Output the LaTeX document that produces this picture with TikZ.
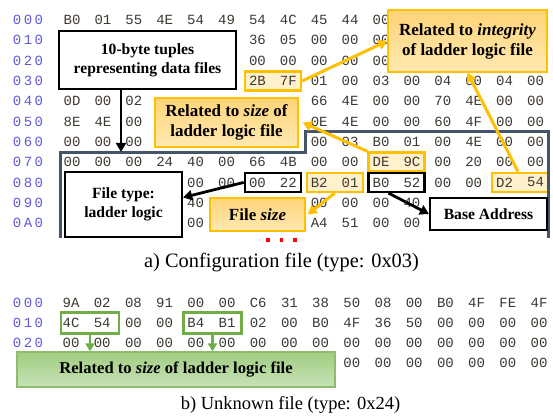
\documentclass[tikz,border=0pt]{standalone}
\usepackage{fontspec}
\setmainfont{Liberation Serif}
\newfontfamily\hexfont{Liberation Mono}
\usetikzlibrary{arrows.meta}
\definecolor{offc}{RGB}{95,90,220}
\definecolor{hexc}{RGB}{62,56,50}
\definecolor{org}{RGB}{255,192,0}
\definecolor{orgtop}{RGB}{255,212,120}
\definecolor{orgbot}{RGB}{255,233,178}
\definecolor{hlfill}{RGB}{255,241,204}
\definecolor{framec}{RGB}{68,84,106}
\definecolor{grn}{RGB}{112,173,71}
\definecolor{grntop}{RGB}{160,205,130}
\definecolor{grnbot}{RGB}{200,226,182}
\newcommand\ofs[3]{#1\kern2.4pt#2\kern2.4pt#3}
\newcommand\hexrowA[4]{\foreach \v [count=\i from #3] in {#4} {\node[hex] (#1-\i) at ({72+30.9*\i},#2) {\v};}}
\newcommand\hexrowB[4]{\foreach \v [count=\i from #3] in {#4} {\node[hex] (#1-\i) at ({71+31.2*\i},#2) {\v};}}
\tikzset{
  hex/.style={font=\hexfont\fontsize{14}{14}\selectfont, text=hexc, inner sep=0pt},
  off/.style={font=\hexfont\fontsize{14}{14}\selectfont, text=offc, inner sep=0pt},
  lbl/.style={font=\bfseries\fontsize{15.6}{19}\selectfont, align=center, inner sep=0pt},
  olbl/.style={font=\bfseries\fontsize{17}{20}\selectfont, align=center, inner sep=0pt},
  whitebox/.style={draw=black, line width=2.2pt, fill=white},
  orgbox/.style={draw=org, line width=1.4pt, top color=orgtop, bottom color=orgbot},
  grnbox/.style={draw=grn!80, line width=1.2pt, top color=grntop, bottom color=grnbot},
  hlo/.style={draw=org, line width=2.4pt, fill=hlfill, minimum height=19pt, minimum width=56pt, inner sep=0pt},
  hlk/.style={draw=black, line width=2.4pt, minimum height=19pt, minimum width=56pt, inner sep=0pt},
  hlg/.style={draw=grn, line width=2.6pt, minimum height=21pt, minimum width=58pt, inner sep=0pt},
  barrow/.style={draw=black, line width=2.8pt, -{Triangle[length=9pt,width=10pt]}},
  oarrow/.style={draw=org, line width=3pt, -{Triangle[length=9pt,width=10pt]}},
  garrow/.style={draw=grn, line width=2.6pt, -{Triangle[length=8pt,width=9pt]}},
  captxt/.style={inner sep=0pt},
}
\begin{document}
\begin{tikzpicture}[x=1pt,y=-1pt]
\fill[white] (0,0) rectangle (553,419);
\useasboundingbox (0,0) rectangle (553,419);

% highlight boxes (behind text)
\node[hlo] (k2b7f) at (272.9,81) {};
\node[hlo] (kde9c) at (396.5,162) {};
\node[hlo] (kb201) at (334.7,182.4) {};
\node[hlo] (kd254) at (520,182.4) {};
\node[hlk] (k0022) at (272.9,182.4) {};
\node[hlk] (kb052) at (396.5,182.4) {};

% offsets (part a)
\foreach \o [count=\r from 0] in {{\ofs000},{\ofs010},{\ofs020},{\ofs030},{\ofs040},{\ofs050},{\ofs060},{\ofs070},{\ofs080},{\ofs090},{\ofs0A0}}
  {\node[off] (oa-\r) at (28,{20+20.3*\r}) {\o};}

% hex rows (part a)
\hexrowA{a0}{20}{0}{B0,01,55,4E,54,49,54,4C,45,44,00}
\hexrowA{a1}{40.3}{6}{36,05,00,00,00}
\hexrowA{a2}{60.6}{6}{00,00,00,00,00}
\hexrowA{a3}{80.9}{6}{2B,7F,01,00,03,00,04,00,04,00}
\hexrowA{a4}{101.2}{0}{0D,00,02}
\hexrowA{a4r}{101.2}{8}{66,4E,00,00,70,4E,00,00}
\hexrowA{a5}{121.5}{0}{8E,4E,00}
\hexrowA{a5r}{121.5}{8}{0E,4E,00,00,60,4F,00,00}
\hexrowA{a6}{141.8}{0}{00,00,00}
\hexrowA{a6r}{141.8}{8}{00,03,B0,01,00,4E,00,00}
\hexrowA{a7}{162.1}{0}{00,00,00,24,40,00,66,4B,00,00,DE,9C,00,20,00,00}
\hexrowA{a8}{182.4}{4}{00,00,00,22,B2,01,B0,52,00,00,D2,54}
\hexrowA{a9}{202.7}{4}{40}
\hexrowA{a9r}{202.7}{8}{00,00,00,40}
\hexrowA{a10}{223}{4}{00}
\hexrowA{a10r}{223}{8}{A4,51,00,00}

% frame
\draw[framec, line width=3pt] (60,238) -- (60,153) -- (305,153) -- (305,132) -- (548,132) -- (548,238);

% annotation boxes
\node[whitebox, lbl, minimum width=177pt, minimum height=58pt] (tuples) at (147.5,60) {10-byte tuples\\representing data files};
\node[orgbox, olbl, minimum width=159pt, minimum height=62pt] (integ) at (467.5,41) {Related to \textit{integrity}\\of ladder logic file};
\node[orgbox, olbl, minimum width=143pt, minimum height=49pt] (sizeb) at (226.5,122.5) {Related to \textit{size} of\\ladder logic file};
\node[whitebox, lbl, minimum width=117pt, minimum height=65pt] (ftype) at (123.5,204.5) {File type:\\ladder logic};
\node[orgbox, olbl, minimum width=95pt, minimum height=33pt] (fsize) at (257.5,214.5) {File \textit{size}};
\node[whitebox, lbl, minimum width=117pt, minimum height=32pt] (base) at (488.5,214) {Base Address};

% connectors (part a)
\coordinate (tupend) at (121,152);
\draw[barrow] (tuples.south -| tupend) -- (tupend);
\draw[oarrow] (k2b7f.east) -- (integ.west);
\draw[oarrow] ([xshift=-2pt]kd254.north) -- (integ.south);
\draw[oarrow] (kde9c.north west) -- ([xshift=4pt]sizeb.east);
\draw[barrow] (k0022.west) -- ([yshift=7pt]ftype.east);
\draw[oarrow] (kb201.south) -- ([xshift=2pt]fsize.east);
\draw[barrow] ([xshift=-8pt]kb052.south) -- (base.west);

% dots
\foreach \x in {268,281.5,295} \fill[red] (\x-1.6,238.4) rectangle (\x+1.6,241.6);

\node[captxt, font=\fontsize{20.4}{23}\selectfont] (capa) at (281.5,263) {a) Configuration file (type: 0x03)};

% part b
\node[hlg] (g4c54) at (90,323) {};
\node[hlg] (gb4b1) at (212.5,323) {};
\foreach \o [count=\r from 0] in {{\ofs000},{\ofs010},{\ofs020}}
  {\node[off] (ob-\r) at (28,{303+20*\r}) {\o};}
\hexrowB{b0}{303}{0}{9A,02,08,91,00,00,C6,31,38,50,08,00,B0,4F,FE,4F}
\hexrowB{b1}{323}{0}{4C,54,00,00,B4,B1,02,00,B0,4F,36,50,00,00,00,00}
\hexrowB{b2}{343}{0}{00,00,00,00,00,00,00,00,00,00,00,00,00,00,00,00}
\hexrowB{b3}{363}{9}{00,00,00,00,00,00,00}
\node[grnbox, font=\bfseries\fontsize{16.6}{18}\selectfont, inner sep=0pt, minimum width=318pt, minimum height=35pt] (gbig) at (176,369.5) {Related to \textit{size} of ladder logic file};
\draw[garrow] (g4c54.south) -- (g4c54.south |- gbig.north);
\draw[garrow] (gb4b1.south) -- (gb4b1.south |- gbig.north);

\node[captxt, font=\fontsize{18.5}{22}\selectfont] (capb) at (290.5,405) {b) Unknown file (type: 0x24)};
\end{tikzpicture}
\end{document}
